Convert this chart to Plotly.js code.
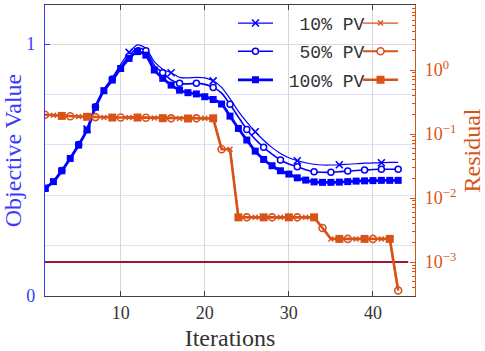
<!DOCTYPE html>
<html><head><meta charset="utf-8">
<script src="https://cdn.plot.ly/plotly-3.0.1.min.js"></script>
<style>html,body{margin:0;padding:0;background:#fff}#chart{width:485px;height:351px}</style>
</head><body><div id="chart"></div>
<script>
const iterations = [1,2,3,4,5,6,7,8,9,10,11,12,13,14,15,16,17,18,19,20,21,22,23,24,25,26,27,28,29,30,31,32,33,34,35,36,37,38,39,40,41,42,43];
const objective10 = [0.429,0.456,0.499,0.548,0.602,0.663,0.753,0.821,0.866,0.920,0.967,0.997,0.983,0.930,0.900,0.886,0.868,0.866,0.868,0.866,0.854,0.828,0.783,0.733,0.690,0.652,0.618,0.589,0.566,0.549,0.537,0.529,0.523,0.520,0.520,0.521,0.523,0.525,0.527,0.528,0.529,0.530,0.530];
const objective50 = [0.428,0.455,0.498,0.547,0.601,0.661,0.751,0.818,0.861,0.910,0.952,0.985,0.973,0.915,0.886,0.858,0.844,0.842,0.844,0.840,0.828,0.805,0.761,0.710,0.661,0.622,0.590,0.563,0.540,0.524,0.513,0.501,0.493,0.491,0.491,0.493,0.496,0.498,0.500,0.502,0.503,0.503,0.503];
const objective100 = [0.427,0.454,0.497,0.546,0.599,0.659,0.749,0.815,0.857,0.903,0.943,0.970,0.956,0.897,0.864,0.837,0.817,0.807,0.802,0.791,0.780,0.762,0.714,0.665,0.619,0.575,0.542,0.517,0.497,0.484,0.469,0.460,0.453,0.451,0.451,0.452,0.454,0.456,0.457,0.458,0.459,0.459,0.459];
const residual10 = [0.200,0.196,0.192,0.190,0.188,0.186,0.184,0.182,0.181,0.181,0.182,0.181,0.180,0.178,0.177,0.176,0.175,0.175,0.176,0.176,0.176,0.058,0.058,0.0050,0.0050,0.0050,0.0050,0.0050,0.0050,0.0050,0.0050,0.0050,0.0050,0.0034,0.0023,0.0023,0.0023,0.0023,0.0023,0.0023,0.0023,0.0023,0.00036];
const residual50 = [0.200,0.196,0.192,0.190,0.188,0.186,0.184,0.182,0.181,0.181,0.182,0.181,0.180,0.178,0.177,0.176,0.175,0.175,0.176,0.176,0.176,0.058,0.058,0.0050,0.0050,0.0050,0.0050,0.0050,0.0050,0.0050,0.0050,0.0050,0.0050,0.0034,0.0023,0.0023,0.0023,0.0023,0.0023,0.0023,0.0023,0.0023,0.00036];
const residual100 = [0.200,0.196,0.192,0.190,0.188,0.186,0.184,0.182,0.181,0.181,0.182,0.181,0.180,0.178,0.177,0.176,0.175,0.175,0.176,0.176,0.176,0.058,0.058,0.0050,0.0050,0.0050,0.0050,0.0050,0.0050,0.0050,0.0050,0.0050,0.0050,0.0034,0.0023,0.0023,0.0023,0.0023,0.0023,0.0023,0.0023,0.0023,0.00036];
const thresholdX = [1, 44.2];
const thresholdY = [0.001, 0.001];
const seriesNames = ['10% PV', '50% PV', '100% PV'];
const xTickVals = [10, 20, 30, 40];
const yTickVals = [0, 1];
const y2TickVals = [0.001, 0.01, 0.1, 1];
const y2TickText = ['10<sup>\u22123</sup>', '10<sup>\u22122</sup>', '10<sup>\u22121</sup>', '10<sup>0</sup>'];

const BLUE = '#0000ff';
const BLUE_AX = '#3a3aff';
const ORANGE = '#d95319';
const DARKRED = '#a2142f';
const TXT = '#333333';
const SERIF = 'Liberation Serif';
const MONO = 'Liberation Mono';

function pick(arr, fn) { return arr.filter((v, i) => fn(i)); }

const blueStyles = [
  {w: 1.2, sym: 'x-thin', size: 7, fill: BLUE, lw: 1.6, every: i => i % 5 === 0},
  {w: 1.6, sym: 'circle', size: 6, fill: '#ffffff', lw: 1.5, every: i => i % 2 === 0},
  {w: 2.8, sym: 'square', size: 7, fill: BLUE, lw: 0, every: i => true}
];
const orangeStyles = [
  {w: 1.2, sym: 'x-thin', size: 5, fill: ORANGE, lw: 1.4, every: i => i % 3 === 1},
  {w: 1.8, sym: 'circle', size: 7, fill: '#ffffff', lw: 1.6, every: i => i % 3 === 0},
  {w: 2.6, sym: 'square', size: 8, fill: ORANGE, lw: 0, every: i => i % 3 === 2}
];
const objectives = [objective10, objective50, objective100];
const residuals = [residual10, residual50, residual100];

const traces = [];
traces.push({x: thresholdX, y: thresholdY, yaxis: 'y2', mode: 'lines', line: {color: DARKRED, width: 2}, showlegend: false, hoverinfo: 'skip'});

function addSeries(yvals, st, color, yaxis, legendId, name, spline) {
  traces.push({x: iterations, y: yvals, yaxis: yaxis, mode: 'lines',
    line: {color: color, width: st.w, shape: spline ? 'spline' : 'linear', smoothing: 0.7}, showlegend: false});
  traces.push({x: pick(iterations, st.every), y: pick(yvals, st.every), yaxis: yaxis, mode: 'markers',
    marker: {symbol: st.sym, size: st.size, color: st.fill, line: {color: color, width: st.lw}}, showlegend: false});
  traces.push({x: [null], y: [null], yaxis: yaxis, mode: 'lines+markers', name: name, legend: legendId,
    line: {color: color, width: st.w},
    marker: {symbol: st.sym, size: st.size, color: st.fill, line: {color: color, width: st.lw}}, showlegend: true});
}

const legendIds = ['legend', 'legend2', 'legend3', 'legend4', 'legend5', 'legend6'];
const padNames = ['\u00a0\u00a0' + seriesNames[0], '\u00a0\u00a0' + seriesNames[1], '\u00a0' + seriesNames[2]];
for (let k = 0; k < 3; k++) {
  addSeries(objectives[k], blueStyles[k], BLUE, 'y', legendIds[k], padNames[k], true);
}
for (let k = 0; k < 3; k++) {
  addSeries(residuals[k], orangeStyles[k], ORANGE, 'y2', legendIds[k + 3], '\u00a0', false);
}

const rowY = [0.937, 0.840, 0.742];
const layout = {
  width: 485, height: 351,
  margin: {l: 45, r: 70, t: 5, b: 55},
  paper_bgcolor: '#ffffff', plot_bgcolor: '#ffffff',
  font: {family: SERIF, color: TXT, size: 17},
  xaxis: {range: [1, 45], tickvals: xTickVals, ticks: 'inside', ticklen: 5, tickcolor: '#404040',
    showline: true, linecolor: '#404040', linewidth: 1, mirror: 'ticks', showgrid: true, gridcolor: '#d6d6d6',
    zeroline: false, tickfont: {family: SERIF, size: 18, color: TXT},
    title: {text: 'Iterations', font: {family: SERIF, size: 24, color: TXT}, standoff: 7}},
  yaxis: {range: [0, 1.155], tickvals: yTickVals, ticks: 'inside', ticklen: 5, tickcolor: BLUE_AX,
    showline: true, linecolor: BLUE_AX, linewidth: 1.2, showgrid: true, gridcolor: '#d8d8d8', zeroline: false,
    minor: {dtick: 0.2, showgrid: true, gridcolor: '#e0e0fb', ticks: ''},
    ticklabelstandoff: 5,
    tickfont: {family: SERIF, size: 18, color: BLUE_AX},
    title: {text: 'Objective Value', font: {family: SERIF, size: 24, color: BLUE_AX}, standoff: 0}},
  yaxis2: {type: 'log', range: [-3.53, 1.016], overlaying: 'y', side: 'right', tickvals: y2TickVals, ticktext: y2TickText,
    ticks: 'inside', ticklen: 5, tickcolor: ORANGE, showline: true, linecolor: ORANGE, linewidth: 1.2,
    showgrid: false, zeroline: false, ticklabelstandoff: 5,
    minor: {tickvals: (function () { const v = []; for (let d = -4; d <= 1; d++) for (let m = 2; m <= 9; m++) v.push(m * Math.pow(10, d)); return v; })(),
      ticks: 'inside', ticklen: 3, tickcolor: ORANGE, showgrid: false},
    tickfont: {family: SERIF, size: 18, color: ORANGE},
    title: {text: 'Residual', font: {family: SERIF, size: 24, color: ORANGE}, standoff: 12}},
  showlegend: true
};
for (let k = 0; k < 6; k++) {
  const blue = k < 3;
  layout[legendIds[k]] = {x: blue ? 0.508 : 0.846, xanchor: 'left', y: rowY[k % 3], yanchor: 'middle',
    bgcolor: 'rgba(0,0,0,0)', borderwidth: 0, itemwidth: 35,
    font: {family: MONO, size: 18, color: TXT}, itemclick: false, itemdoubleclick: false};
}
Plotly.newPlot('chart', traces, layout, {displayModeBar: false, staticPlot: true});
</script></body></html>
